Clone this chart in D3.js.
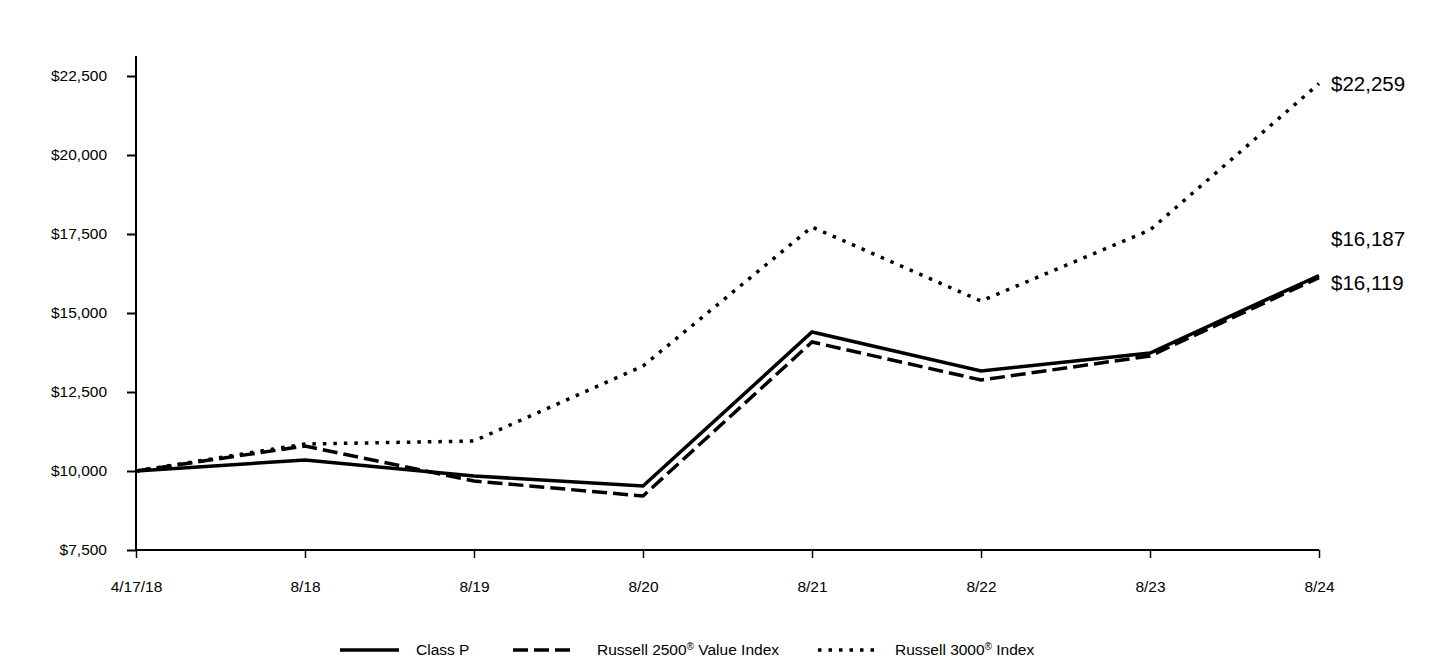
<!DOCTYPE html>
<html><head><meta charset="utf-8">
<script src="https://cdn.jsdelivr.net/npm/d3@7"></script>
<style>body{margin:0;background:#fff}svg{display:block;font-family:"Liberation Sans",Arial,sans-serif}</style>
</head><body><svg id="c" width="1440" height="660"></svg>
<script>
const categories = ["4/17/18","8/18","8/19","8/20","8/21","8/22","8/23","8/24"];
const classP = [10000,10348,9842,9525,14398,13164,13734,16187];
const russell2500 = [10000,10791,9684,9209,14082,12880,13639,16119];
const russell3000 = [10000,10854,10949,13323,17722,15380,17627,22259];
const yTicks = [7500,10000,12500,15000,17500,20000,22500];
const seriesNames = ["Class P","Russell 2500® Value Index","Russell 3000® Index"];

const svg = d3.select("#c");
const x = d3.scalePoint().domain(categories).range([136,1319]);
const y = d3.scaleLinear().domain([7500,22500]).range([550,76]);
const fmt = v => "$" + d3.format(",")(v);

// y axis
const ya = svg.append("g").attr("transform","translate(136,0)")
  .call(d3.axisLeft(y).tickValues(yTicks).tickFormat(fmt).tickSize(9).tickPadding(20));
ya.select(".domain").remove();
ya.selectAll(".tick line").attr("stroke","#000").attr("stroke-width",2);
ya.selectAll("text").attr("font-size",15.5).attr("fill","#000");
svg.append("line").attr("x1",136).attr("x2",136).attr("y1",56).attr("y2",550).attr("stroke","#000").attr("stroke-width",2);

// x axis
const xa = svg.append("g").attr("transform","translate(0,550)")
  .call(d3.axisBottom(x).tickSize(8).tickPadding(23));
xa.select(".domain").remove();
xa.selectAll(".tick line").attr("stroke","#000").attr("stroke-width",1.5);
xa.selectAll("text").attr("font-size",15.5).attr("fill","#000");
svg.append("line").attr("x1",136).attr("x2",1319).attr("y1",550).attr("y2",550).attr("stroke","#000").attr("stroke-width",2);

const styles = [
  {data: classP, dash: null},
  {data: russell2500, dash: "15,6"},
  {data: russell3000, dash: "3.5,7"}
];
const line = d3.line().x((d,i)=>x(categories[i])).y(d=>y(d));
[2,1,0].forEach(k=>{
  const s = styles[k];
  const p = svg.append("path").datum(s.data).attr("d",line)
    .attr("fill","none").attr("stroke","#000").attr("stroke-width",3.5)
    .attr("stroke-linejoin","miter");
  if (s.dash) p.attr("stroke-dasharray", s.dash);
});

// end labels
const last = categories.length-1;
const endLabels = [
  {v: russell3000[last], dy: 0},
  {v: classP[last], dy: -37},
  {v: russell2500[last], dy: 5}
];
endLabels.forEach(l=>{
  svg.append("text").attr("x",1331).attr("y",y(l.v)+l.dy).attr("dy","0.35em")
    .attr("font-size",20.5).attr("fill","#000").text(fmt(l.v));
});

// legend
const legend = [
  {x1:340, tx:416, dash:null},
  {x1:513, tx:597, dash:"15,6"},
  {x1:818, tx:895, dash:"3.5,7"}
];
legend.forEach((l,i)=>{
  const ln = svg.append("line").attr("x1",l.x1).attr("x2",l.x1+59).attr("y1",650).attr("y2",650)
    .attr("stroke","#000").attr("stroke-width",3.5);
  if (l.dash) ln.attr("stroke-dasharray",l.dash);
  const t = svg.append("text").attr("x",l.tx).attr("y",650).attr("dy","0.35em").attr("font-size",15.5).attr("fill","#000");
  const name = seriesNames[i];
  const idx = name.indexOf("®");
  if (idx<0) t.text(name);
  else {
    t.append("tspan").text(name.slice(0,idx));
    t.append("tspan").attr("font-size",10).attr("baseline-shift","super").text("®");
    t.append("tspan").text(name.slice(idx+1));
  }
});
</script></body></html>
